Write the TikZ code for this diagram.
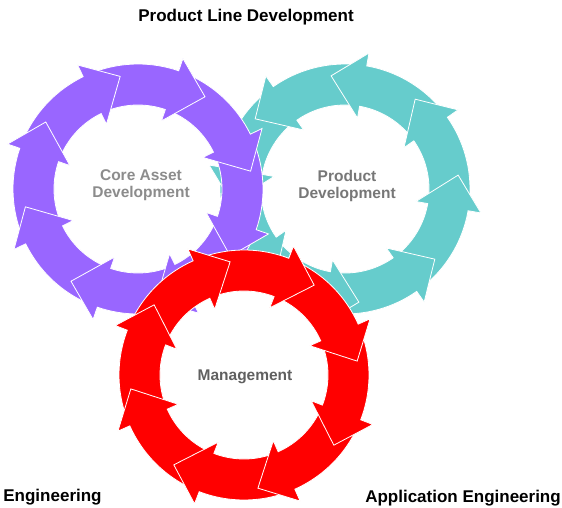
\documentclass[tikz,border=0pt]{standalone}
\usepackage{fontspec}
\setmainfont{Liberation Sans}
\definecolor{cpurple}{HTML}{9966FF}
\definecolor{cteal}{HTML}{66CCCC}
\definecolor{cred}{HTML}{FF0000}
\definecolor{tcore}{HTML}{8C8C8C}
\definecolor{tprod}{HTML}{777777}
\definecolor{tman}{HTML}{606060}
\newcommand\drawRingArrow[3]{%
  \pgfmathsetmacro\ta{#2-(#3)*39}%
  \pgfmathsetmacro\tp{#2+(#3)*17}%
  \filldraw[fill=#1,arrowline] (\ta:125pt) arc[start angle=\ta,end angle=#2,radius=125pt]
    -- (#2:138pt) -- (\tp:114pt) -- (#2:72pt) -- (#2:84pt)
    arc[start angle=#2,end angle=\ta,radius=84pt] -- cycle;}
\newcommand\drawRingSet[5]{%
  \begin{scope}[shift={(#1pt,#2pt)}]
    \foreach \k in {7,...,0}{%
      \pgfmathsetmacro\bb{#4+(#5)*45*\k}%
      \drawRingArrow{#3}{\bb}{#5}}
    \pgfmathsetmacro\bb{#4+(#5)*315}%
    \pgfmathsetmacro\ca{\bb-(#5)*3}%
    \pgfmathsetmacro\cb{\bb+(#5)*24}%
    \pgfmathsetmacro\cm{(\ca+\cb)/2}%
    \begin{scope}
      \clip (0pt,0pt) -- (\ca:170pt) -- (\cm:185pt) -- (\cb:170pt) -- cycle;
      \drawRingArrow{#3}{\bb}{#5}
    \end{scope}
  \end{scope}}
\tikzset{
  arrowline/.style={draw=white,line width=0.8pt,line join=miter},
  outerlabel/.style={font=\bfseries\fontsize{17}{17}\selectfont,text=black,inner sep=0pt,anchor=base},
  innerlabel/.style={font=\bfseries\fontsize{15.5}{17}\selectfont,align=center,inner sep=0pt}
}
\begin{document}
\begin{tikzpicture}[x=1pt,y=1pt]
  \useasboundingbox[fill=white] (0,0) rectangle (562,-508);
  % teal ring (counterclockwise)
  \drawRingSet{345}{-189}{cteal}{35}{1}
  % purple ring (clockwise)
  \drawRingSet{138}{-189}{cpurple}{26}{-1}
  % red ring (clockwise)
  \drawRingSet{244}{-375}{cred}{24}{-1}
  % labels
  \node[outerlabel] (pld) at (246,-21.5) {Product Line Development};
  \node[outerlabel] (eng) at (52.5,-501) {Engineering};
  \node[outerlabel] (ape) at (463,-502) {Application Engineering};
  \node[innerlabel,text=tcore] (cad) at (141,-185) {Core Asset\\Development};
  \node[innerlabel,text=tprod] (pd) at (347,-185.5) {Product\\Development};
  \node[innerlabel,text=tman] (man) at (245,-377) {Management};
\end{tikzpicture}
\end{document}
